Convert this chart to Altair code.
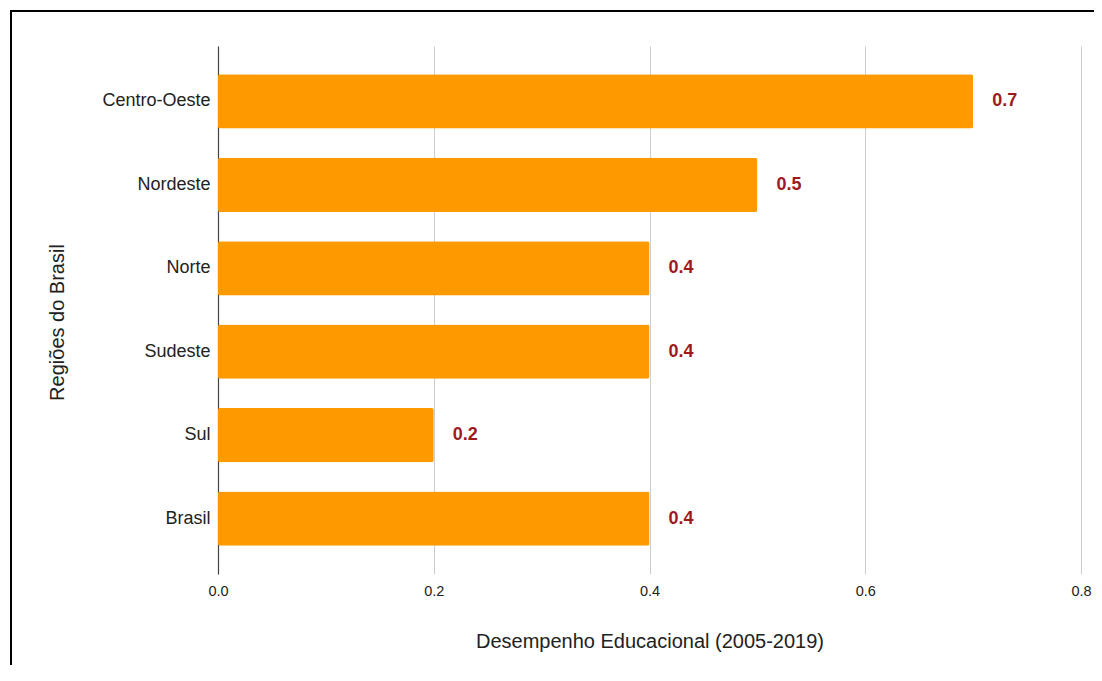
import altair as alt
import pandas as pd

regions = ["Centro-Oeste", "Nordeste", "Norte", "Sudeste", "Sul", "Brasil"]
values = [0.7, 0.5, 0.4, 0.4, 0.2, 0.4]
labels = ["0.7", "0.5", "0.4", "0.4", "0.2", "0.4"]
x_ticks = [0.0, 0.2, 0.4, 0.6, 0.8]

df = pd.DataFrame({"regiao": regions, "valor": values, "rotulo": labels})

FONT = "Arial, Liberation Sans, sans-serif"

y_enc = alt.Y(
    "regiao:N",
    sort=regions,
    scale=alt.Scale(paddingInner=0.35, paddingOuter=0.34),
    axis=alt.Axis(
        title="Regiões do Brasil",
        titleFont=FONT,
        titleFontSize=20,
        titleFontWeight="normal",
        titleColor="#222222",
        titleX=-161,
        titleY=276,
        titleAngle=-90,
        titleAlign="center",
        titleBaseline="middle",
        labelFont=FONT,
        labelFontSize=18,
        labelColor="#222222",
        labelPadding=8,
        ticks=False,
        domain=True,
        domainColor="#444444",
        domainWidth=1.2,
        grid=False,
    ),
)

x_enc = alt.X(
    "valor:Q",
    scale=alt.Scale(domain=[0, 0.8], nice=False, zero=True),
    axis=alt.Axis(
        title="Desempenho Educacional (2005-2019)",
        titleFont=FONT,
        titleFontSize=20,
        titleFontWeight="normal",
        titleColor="#222222",
        titleY=67,
        titleBaseline="middle",
        values=x_ticks,
        format=".1f",
        labelFont=FONT,
        labelFontSize=14.5,
        labelColor="#222222",
        labelPadding=10,
        labelFlush=False,
        ticks=False,
        domain=False,
        grid=True,
        gridColor="#cccccc",
        gridWidth=1,
    ),
)

bars = alt.Chart(df).mark_bar(color="#ff9900", cornerRadius=2).encode(x=x_enc, y=y_enc)

text = alt.Chart(df).mark_text(
    align="left",
    baseline="middle",
    dx=19,
    font=FONT,
    fontSize=18,
    fontWeight="bold",
    color="#9e1a1f",
).encode(x="valor:Q", y=alt.Y("regiao:N", sort=regions), text="rotulo:N")

frame = alt.Chart(pd.DataFrame({"a": [0]})).mark_rect(
    fillOpacity=0, stroke="black", strokeWidth=2
).encode(
    x=alt.value(-207),
    x2=alt.value(1000),
    y=alt.value(-35),
    y2=alt.value(800),
)

chart = alt.layer(bars, text, frame).properties(
    width=863,
    height=528,
    autosize=alt.AutoSizeParams(type="none"),
    padding={"left": 210, "top": 38, "right": 13, "bottom": 91},
    background="white",
).configure_view(stroke=None)

chart.save("out.html", embed_options={"renderer": "svg", "actions": False})
